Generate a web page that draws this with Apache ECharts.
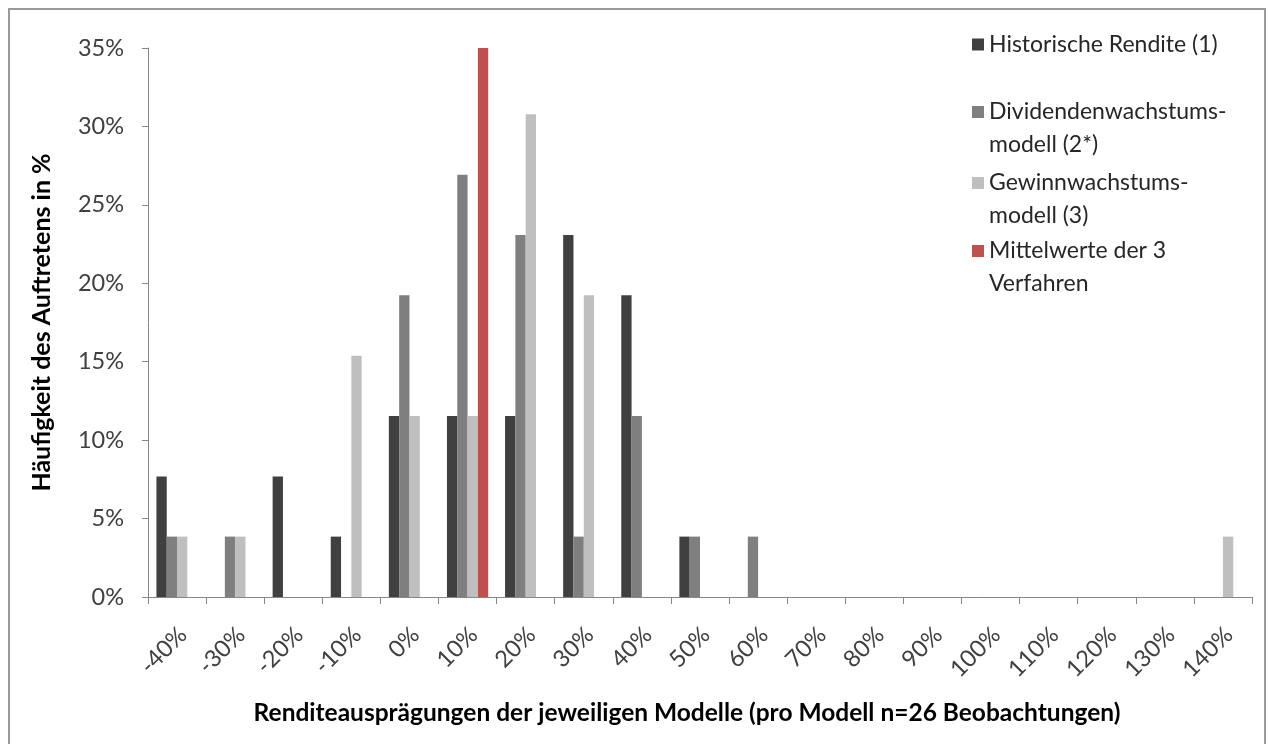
<!DOCTYPE html>
<html>
<head>
<meta charset="utf-8">
<script src="https://cdn.jsdelivr.net/npm/echarts@6/dist/echarts.min.js"></script>
<style>
html,body{margin:0;padding:0;background:#fff;}
#chart{width:1268px;height:744px;}
</style>
</head>
<body>
<div id="chart"></div>
<script>
const categories = ['-40%','-30%','-20%','-10%','0%','10%','20%','30%','40%','50%','60%','70%','80%','90%','100%','110%','120%','130%','140%'];
const seriesNames = ['Historische Rendite (1)', 'Dividendenwachstums-\nmodell (2*)', 'Gewinnwachstums-\nmodell (3)', 'Mittelwerte der 3\nVerfahren'];
const historisch = [7.69, 0, 7.69, 3.85, 11.54, 11.54, 11.54, 23.08, 19.23, 3.85, 0, 0, 0, 0, 0, 0, 0, 0, 0];
const dividenden = [3.85, 3.85, 0, 0, 19.23, 26.92, 23.08, 3.85, 11.54, 3.85, 3.85, 0, 0, 0, 0, 0, 0, 0, 0];
const gewinn = [3.85, 3.85, 0, 15.38, 11.54, 11.54, 30.77, 19.23, 0, 0, 0, 0, 0, 0, 0, 0, 0, 0, 3.85];
const mittelwerte = [null, null, null, null, null, 35, null, null, null, null, null, null, null, null, null, null, null, null, null];
const yTicks = { min: 0, max: 35, interval: 5 };

const colors = ['#404040', '#7f7f7f', '#bfbfbf', '#c0504d'];
const FONT = 'Lato';
const seriesData = [historisch, dividenden, gewinn, mittelwerte];
const legendCenters = [44.5, 112, 183, 251];

const chart = echarts.init(document.getElementById('chart'));

const legends = seriesNames.map((n, i) => {
  const multi = n.indexOf('\n') >= 0;
  return {
    orient: 'vertical',
    left: 972,
    top: multi ? legendCenters[i] - 49.5 : legendCenters[i] - 16.5,
    padding: 0,
    data: [n],
    icon: 'rect',
    itemWidth: 12,
    itemHeight: 12,
    selectedMode: false,
    formatter: function (name) { return name.indexOf('\n') >= 0 ? ' \n' + name : name; },
    textStyle: {
      fontFamily: FONT,
      fontSize: 23,
      lineHeight: 33,
      color: '#262626'
    }
  };
});

chart.setOption({
  animation: false,
  color: colors,
  textStyle: { fontFamily: FONT },
  graphic: [{
    type: 'rect',
    shape: { x: 9, y: 9, width: 1256, height: 800 },
    style: { fill: 'none', stroke: '#9a9a9a', lineWidth: 2 },
    silent: true
  }],
  legend: legends,
  grid: { left: 148, right: 16, top: 48, bottom: 147, containLabel: false },
  xAxis: {
    type: 'category',
    data: categories,
    axisLine: { lineStyle: { color: '#868686', width: 1 } },
    axisTick: { show: true, length: 7, lineStyle: { color: '#868686' } },
    axisLabel: {
      rotate: 45,
      interval: 0,
      margin: 28,
      verticalAlign: 'top',
      lineHeight: 17,
      fontFamily: FONT,
      fontSize: 23.5,
      color: '#404040'
    },
    name: 'Renditeausprägungen der jeweiligen Modelle (pro Modell n=26 Beobachtungen)',
    nameLocation: 'middle',
    nameGap: 104,
    nameTextStyle: {
      fontFamily: FONT,
      fontWeight: 'bold',
      fontSize: 24.5,
      color: '#000',
      padding: [0, 26, 0, 0]
    }
  },
  yAxis: {
    type: 'value',
    min: yTicks.min,
    max: yTicks.max,
    interval: yTicks.interval,
    splitLine: { show: false },
    axisLine: { show: true, lineStyle: { color: '#868686', width: 1 } },
    axisTick: { show: true, length: 6, lineStyle: { color: '#868686' } },
    axisLabel: {
      formatter: '{value}%',
      margin: 24,
      fontFamily: FONT,
      fontSize: 23.5,
      color: '#404040'
    },
    name: 'Häufigkeit des Auftretens in %',
    nameLocation: 'middle',
    nameRotate: 90,
    nameGap: 94,
    nameTextStyle: {
      fontFamily: FONT,
      fontWeight: 'bold',
      fontSize: 25,
      color: '#000'
    }
  },
  series: seriesData.map((d, i) => ({
    name: seriesNames[i],
    type: 'bar',
    data: d,
    barGap: '0%',
    barCategoryGap: '29%',
    itemStyle: { color: colors[i] }
  }))
});
</script>
</body>
</html>
